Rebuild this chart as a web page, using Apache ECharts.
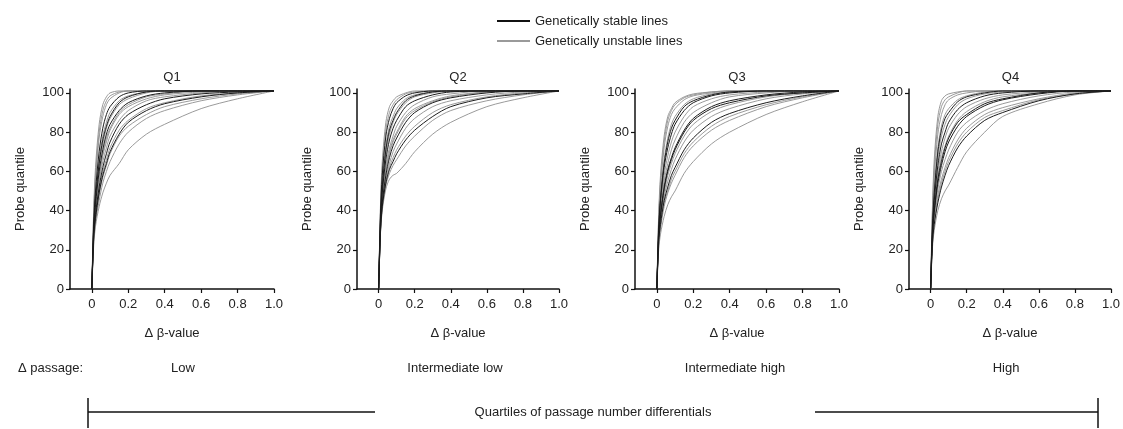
<!DOCTYPE html>
<html><head><meta charset="utf-8">
<script src="https://cdn.jsdelivr.net/npm/echarts@6/dist/echarts.min.js"></script>
<style>html,body{margin:0;padding:0;background:#fff}#c{width:1123px;height:429px}</style>
</head><body><div id="c"></div>
<script>
// Shared Δβ-value sample points (x) for every curve
const deltaBeta = [0, 0.01, 0.02, 0.04, 0.06, 0.08, 0.1, 0.15, 0.2, 0.3, 0.4, 0.6, 0.8, 1.0];
const panelTitles = ['Q1', 'Q2', 'Q3', 'Q4'];
const passageLabels = ['Low', 'Intermediate low', 'Intermediate high', 'High'];
const xTickValues = [0, 0.2, 0.4, 0.6, 0.8, 1.0];
const yTickValues = [0, 20, 40, 60, 80, 100];

// Probe quantile curves, one list per panel
const q1Curves = [
  [0, 40, 62, 84, 94, 98, 100, 101, 101, 101, 101, 101, 101, 101],
  [0, 36, 55, 77, 88, 94, 97, 100, 101, 101, 101, 101, 101, 101],
  [0, 33, 50, 70, 82, 89, 93, 98, 100, 101, 101, 101, 101, 101],
  [0, 32, 47, 66, 78, 85, 90, 96, 98.5, 100.5, 101, 101, 101, 101],
  [0, 30, 45, 63, 74, 82, 87, 94, 97, 100, 101, 101, 101, 101],
  [0, 30, 43, 60, 71, 79, 84, 91, 95, 98.5, 100, 101, 101, 101],
  [0, 28, 41, 57, 68, 75, 81, 89, 93, 97, 99, 100.5, 101, 101],
  [0, 28, 40, 55, 65, 72, 78, 86, 91, 96, 98, 100, 101, 101],
  [0, 27, 38, 52, 62, 69, 75, 84, 89, 94, 97, 99.5, 100.5, 101],
  [0, 26, 37, 50, 60, 66, 72, 81, 86, 92, 95, 98.5, 100, 101],
  [0, 25, 35, 48, 57, 63, 69, 78, 83, 89, 93, 97, 99.5, 101],
  [0, 24, 34, 45, 54, 60, 65, 74, 80, 87, 91, 96, 99, 101],
  [0, 22, 32, 42, 49, 54, 58, 64, 71, 79, 84, 92, 97, 101],
  [0, 38, 58, 80, 91, 96, 98.5, 100.5, 101, 101, 101, 101, 101, 101],
  [0, 31, 46, 64, 76, 83, 88, 95, 98, 100.5, 101, 101, 101, 101],
  [0, 29, 42, 58, 69, 77, 82, 90, 94, 98, 99.5, 101, 101, 101],
  [0, 26, 36, 49, 58, 64, 70, 79, 85, 91, 94.5, 98, 100, 101]
];
const q2Curves = [
  [0, 42, 65, 85, 93, 96, 98, 100, 101, 101, 101, 101, 101, 101],
  [0, 38, 58, 78, 87, 92, 95, 98.5, 100, 101, 101, 101, 101, 101],
  [0, 36, 54, 73, 83, 88, 92, 97, 99, 100.5, 101, 101, 101, 101],
  [0, 34, 51, 69, 79, 85, 89, 95, 98, 100, 101, 101, 101, 101],
  [0, 33, 49, 66, 76, 82, 86, 93, 96, 99, 100.5, 101, 101, 101],
  [0, 32, 47, 63, 72, 78, 83, 90, 94, 98, 99.5, 101, 101, 101],
  [0, 31, 46, 61, 70, 76, 80, 88, 92, 96, 98.5, 100.5, 101, 101],
  [0, 30, 44, 58, 67, 73, 77, 85, 90, 95, 97.5, 100, 101, 101],
  [0, 30, 43, 56, 64, 70, 74, 82, 87, 93, 96, 99, 100.5, 101],
  [0, 29, 42, 55, 62, 67, 71, 78, 83, 90, 94, 98, 100, 101],
  [0, 28, 41, 53, 59, 63, 66, 73, 78, 86, 91, 96, 99, 101],
  [0, 28, 40, 51, 56, 58, 59, 64, 70, 79, 85, 93, 97.5, 101],
  [0, 40, 61, 81, 90, 94, 96.5, 99.5, 100.5, 101, 101, 101, 101, 101],
  [0, 35, 52, 71, 81, 86, 90, 96, 98.5, 100.5, 101, 101, 101, 101],
  [0, 31, 45, 60, 69, 75, 79, 87, 91, 95.5, 98, 100.5, 101, 101],
  [0, 29, 42, 54, 61, 65, 69, 76, 81, 88, 93, 97.5, 99.5, 101]
];
const q3Curves = [
  [0, 38, 58, 78, 88, 92, 95, 98, 99.5, 100.5, 101, 101, 101, 101],
  [0, 34, 52, 72, 83, 89, 92, 96.5, 98.5, 100, 101, 101, 101, 101],
  [0, 32, 48, 66, 77, 84, 88, 94, 97, 99.5, 100.5, 101, 101, 101],
  [0, 30, 45, 62, 72, 79, 84, 91, 95, 98.5, 100, 101, 101, 101],
  [0, 29, 42, 58, 68, 75, 80, 88, 93, 97, 99, 100.5, 101, 101],
  [0, 28, 40, 55, 64, 71, 76, 85, 90, 95, 98, 100, 101, 101],
  [0, 27, 38, 52, 61, 67, 72, 81, 87, 93, 96, 99, 100.5, 101],
  [0, 26, 36, 49, 58, 64, 69, 78, 84, 90.5, 94, 98, 100, 101],
  [0, 25, 34, 47, 55, 61, 66, 75, 81, 88, 92, 97, 99.5, 101],
  [0, 24, 33, 45, 52, 58, 62, 71, 77, 85, 89.5, 95, 98.5, 101],
  [0, 22, 31, 42, 49, 54, 58, 67, 73, 81, 86, 93, 97.5, 101],
  [0, 20, 28, 37, 43, 47, 50, 59, 65, 74, 80, 89, 95.5, 101],
  [0, 36, 55, 75, 86, 91, 94, 97.5, 99, 100.5, 101, 101, 101, 101],
  [0, 31, 46, 64, 75, 82, 86, 93, 96, 99, 100.5, 101, 101, 101],
  [0, 27, 37, 51, 60, 66, 71, 80, 86, 92, 95, 98.5, 100, 101],
  [0, 23, 32, 44, 50, 56, 60, 69, 75, 83, 88, 94, 98, 101]
];
const q4Curves = [
  [0, 42, 66, 88, 96, 98.5, 99.5, 100.5, 101, 101, 101, 101, 101, 101],
  [0, 36, 57, 79, 89, 94, 96.5, 99, 100, 101, 101, 101, 101, 101],
  [0, 33, 51, 72, 83, 89, 92, 96.5, 98.5, 100.5, 101, 101, 101, 101],
  [0, 31, 47, 67, 78, 84, 88, 94, 97, 99.5, 100.5, 101, 101, 101],
  [0, 30, 45, 63, 74, 80, 85, 91.5, 95, 98.5, 100, 101, 101, 101],
  [0, 29, 43, 60, 70, 77, 82, 89, 93, 97, 99, 100.5, 101, 101],
  [0, 28, 41, 57, 67, 73, 78, 86, 90.5, 95.5, 98, 100, 101, 101],
  [0, 27, 39, 54, 63, 70, 75, 83, 88, 93.5, 96.5, 99.5, 101, 101],
  [0, 26, 37, 51, 60, 66, 71, 80, 85, 91, 94.5, 98.5, 100.5, 101],
  [0, 25, 35, 48, 56, 62, 67, 76, 82, 89, 92.5, 97, 100, 101],
  [0, 23, 33, 44, 52, 58, 63, 72, 78, 86, 90, 96, 99.5, 101],
  [0, 21, 30, 40, 46, 50, 53, 62, 70, 80, 88, 94.5, 99, 101],
  [0, 39, 62, 84, 93, 96.5, 98, 100, 101, 101, 101, 101, 101, 101],
  [0, 32, 49, 70, 81, 87, 90, 95.5, 98, 100, 101, 101, 101, 101],
  [0, 28, 40, 56, 65, 72, 77, 85, 89, 94.5, 97, 100, 101, 101],
  [0, 24, 34, 46, 54, 60, 65, 74, 80, 87.5, 91, 96.5, 99.5, 101]
];
// Which curves are genetically stable lines (black), per panel
const q1Stable = [2, 5, 8, 14, 16];
const q2Stable = [1, 4, 7, 13, 15];
const q3Stable = [3, 6, 9, 13, 14];
const q4Stable = [4, 7, 10, 13, 14];

const panels = [
  {curves: q1Curves, stable: q1Stable},
  {curves: q2Curves, stable: q2Stable},
  {curves: q3Curves, stable: q3Stable},
  {curves: q4Curves, stable: q4Stable}
];

const FONT = '"Liberation Sans", Arial, Helvetica, sans-serif';
const TXT = '#222';
const gridLefts = [70, 357, 635, 909];
const gridWidths = [204, 202, 204, 203];

const grids = [], xAxes = [], yAxes = [], series = [], titles = [];
panels.forEach((p, i) => {
  grids.push({left: gridLefts[i], top: 89, width: gridWidths[i], height: 200, containLabel: false});
  xAxes.push({
    type: 'value', gridIndex: i, min: -0.12, max: 1.0,
    name: 'Δ β-value', nameLocation: 'middle', nameGap: 38,
    nameTextStyle: {fontFamily: FONT, fontSize: 13, color: TXT},
    splitLine: {show: false},
    axisLine: {show: true, onZero: false, lineStyle: {color: '#111', width: 1.5}},
    axisTick: {show: true, length: 4, customValues: xTickValues, lineStyle: {color: '#111', width: 1.2}},
    axisLabel: {customValues: xTickValues, fontFamily: FONT, fontSize: 13, color: TXT, margin: 9,
      formatter: v => (v === 0 ? '0' : v.toFixed(1))}
  });
  yAxes.push({
    type: 'value', gridIndex: i, min: 0, max: 102,
    name: 'Probe quantile', nameLocation: 'middle', nameGap: 43, nameRotate: 90,
    nameTextStyle: {fontFamily: FONT, fontSize: 13, color: TXT},
    splitLine: {show: false},
    axisLine: {show: true, onZero: false, lineStyle: {color: '#111', width: 1.5}},
    axisTick: {show: true, length: 4, customValues: yTickValues, lineStyle: {color: '#111', width: 1.2}},
    axisLabel: {customValues: yTickValues, fontFamily: FONT, fontSize: 13, color: TXT, margin: 6}
  });
  titles.push({text: panelTitles[i], left: gridLefts[i] + gridWidths[i] / 2 - 5, top: 66, textAlign: 'center',
    textStyle: {fontFamily: FONT, fontSize: 13, fontWeight: 'normal', color: TXT}});
  const order = p.curves.map((c, k) => k).sort((a, b) => (p.stable.includes(a) ? 1 : 0) - (p.stable.includes(b) ? 1 : 0));
  order.forEach(k => {
    const isStable = p.stable.includes(k);
    series.push({
      type: 'line', xAxisIndex: i, yAxisIndex: i,
      name: isStable ? 'Genetically stable lines' : 'Genetically unstable lines',
      data: deltaBeta.map((x, j) => [x, p.curves[k][j]]),
      showSymbol: false, smooth: 0.3, silent: true,
      lineStyle: {color: isStable ? '#1c1c1c' : '#8e8e8e', width: isStable ? 1 : 0.9},
      z: isStable ? 3 : 2
    });
  });
});

const graphic = [
  {type: 'line', shape: {x1: 497, y1: 21, x2: 530, y2: 21}, style: {stroke: '#111', lineWidth: 2}},
  {type: 'text', x: 535, y: 21, style: {text: 'Genetically stable lines', fontFamily: FONT, fontSize: 13, fill: TXT, verticalAlign: 'middle'}},
  {type: 'line', shape: {x1: 497, y1: 41, x2: 530, y2: 41}, style: {stroke: '#9a9a9a', lineWidth: 2}},
  {type: 'text', x: 535, y: 41, style: {text: 'Genetically unstable lines', fontFamily: FONT, fontSize: 13, fill: TXT, verticalAlign: 'middle'}},
  {type: 'text', x: 18, y: 368, style: {text: 'Δ passage:', fontFamily: FONT, fontSize: 13, fill: TXT, verticalAlign: 'middle'}}
];
const passageX = [183, 455, 735, 1006];
passageLabels.forEach((t, i) => graphic.push({type: 'text', x: passageX[i], y: 368,
  style: {text: t, fontFamily: FONT, fontSize: 13, fill: TXT, align: 'center', verticalAlign: 'middle'}}));
graphic.push(
  {type: 'line', shape: {x1: 88, y1: 398, x2: 88, y2: 428}, style: {stroke: '#111', lineWidth: 1.5}},
  {type: 'line', shape: {x1: 88, y1: 412, x2: 375, y2: 412}, style: {stroke: '#111', lineWidth: 1.5}},
  {type: 'text', x: 593, y: 412, style: {text: 'Quartiles of passage number differentials', fontFamily: FONT, fontSize: 13, fill: TXT, align: 'center', verticalAlign: 'middle'}},
  {type: 'line', shape: {x1: 815, y1: 412, x2: 1098, y2: 412}, style: {stroke: '#111', lineWidth: 1.5}},
  {type: 'line', shape: {x1: 1098, y1: 398, x2: 1098, y2: 428}, style: {stroke: '#111', lineWidth: 1.5}}
);

const chart = echarts.init(document.getElementById('c'), null, {renderer: 'canvas'});
chart.setOption({
  animation: false,
  backgroundColor: '#fff',
  title: titles,
  grid: grids, xAxis: xAxes, yAxis: yAxes, series: series,
  graphic: graphic
});
</script></body></html>
